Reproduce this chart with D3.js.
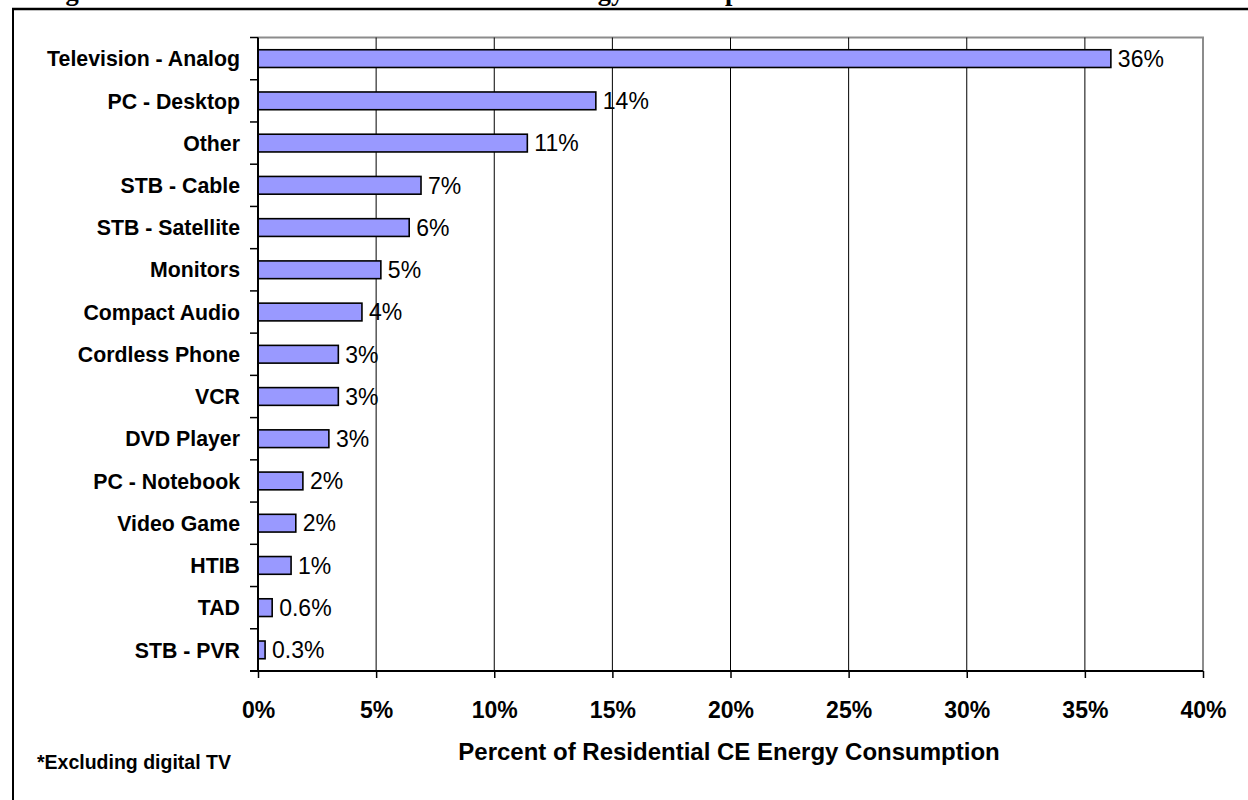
<!DOCTYPE html>
<html>
<head>
<meta charset="utf-8">
<script src="https://cdn.jsdelivr.net/npm/d3@7"></script>
<style>
  html, body { margin: 0; padding: 0; background: #fff; }
  svg { display: block; }
</style>
</head>
<body>
<svg id="chart" width="1248" height="800"></svg>
<script>
// Share of residential consumer-electronics energy use, by product
const categories = [
  "Television - Analog", "PC - Desktop", "Other", "STB - Cable", "STB - Satellite",
  "Monitors", "Compact Audio", "Cordless Phone", "VCR", "DVD Player",
  "PC - Notebook", "Video Game", "HTIB", "TAD", "STB - PVR"
];
const shares = [36.1, 14.3, 11.4, 6.9, 6.4, 5.2, 4.4, 3.4, 3.4, 3.0, 1.9, 1.6, 1.4, 0.6, 0.3];
const valueLabels = ["36%", "14%", "11%", "7%", "6%", "5%", "4%", "3%", "3%", "3%", "2%", "2%", "1%", "0.6%", "0.3%"];
const xTicks = [0, 5, 10, 15, 20, 25, 30, 35, 40];

const titleText = "Figure 3: Consumer Electronics Residential Energy Consumption in U.S. Households in 2006*";
const axisTitle = "Percent of Residential CE Energy Consumption";
const footnote = "*Excluding digital TV";

const svg = d3.select("#chart");
const sans = "'Liberation Sans', Arial, Helvetica, sans-serif";

const plot = { left: 258, right: 1203, top: 37.5, bottom: 671 };

const x = d3.scaleLinear().domain([0, 40]).range([plot.left, plot.right]);
const y = d3.scaleBand().domain(categories)
  .range([plot.top, plot.bottom])
  .paddingInner(0.58).paddingOuter(0.29);

// Figure caption (runs off the top edge of the page)
svg.append("text")
  .attr("x", 42).attr("y", -0.5)
  .attr("font-family", "'Liberation Serif', 'Times New Roman', serif")
  .attr("font-weight", "bold")
  .attr("font-size", 26.5)
  .attr("fill", "#000")
  .text(titleText);

// Outer frame of the figure
svg.append("line").attr("x1", 12).attr("x2", 1248).attr("y1", 9).attr("y2", 9)
  .attr("stroke", "#000").attr("stroke-width", 2.5);
svg.append("line").attr("x1", 13).attr("x2", 13).attr("y1", 8).attr("y2", 800)
  .attr("stroke", "#000").attr("stroke-width", 2);

// Plot-area border (top and right) in grey
svg.append("path")
  .attr("d", `M${plot.left},${plot.top}H${plot.right}V${plot.bottom}`)
  .attr("fill", "none").attr("stroke", "#8c8c8c").attr("stroke-width", 2);

// Vertical gridlines
svg.append("g").selectAll("line")
  .data(xTicks.filter(t => t > 0 && t < 40))
  .join("line")
  .attr("x1", d => x(d)).attr("x2", d => x(d))
  .attr("y1", plot.top).attr("y2", plot.bottom)
  .attr("stroke", "#000").attr("stroke-width", 1);

// Bars
svg.append("g").selectAll("rect")
  .data(categories)
  .join("rect")
  .attr("x", x(0))
  .attr("y", d => y(d))
  .attr("width", (d, i) => x(shares[i]) - x(0))
  .attr("height", y.bandwidth())
  .attr("fill", "#9999ff")
  .attr("stroke", "#000")
  .attr("stroke-width", 1.6);

// Value labels at bar ends
svg.append("g").selectAll("text")
  .data(categories)
  .join("text")
  .attr("x", (d, i) => x(shares[i]) + 7)
  .attr("y", d => y(d) + y.bandwidth() / 2)
  .attr("dy", "0.36em")
  .attr("font-family", sans)
  .attr("font-size", 23)
  .attr("fill", "#000")
  .text((d, i) => valueLabels[i]);

// Category axis (left)
const yAxis = svg.append("g");
yAxis.append("line")
  .attr("x1", plot.left).attr("x2", plot.left)
  .attr("y1", plot.top).attr("y2", plot.bottom)
  .attr("stroke", "#000").attr("stroke-width", 2);
const step = y.step();
yAxis.selectAll("line.tick")
  .data(d3.range(categories.length + 1))
  .join("line").attr("class", "tick")
  .attr("x1", plot.left - 8).attr("x2", plot.left)
  .attr("y1", i => plot.top + i * step).attr("y2", i => plot.top + i * step)
  .attr("stroke", "#000").attr("stroke-width", 1.5);
yAxis.selectAll("text")
  .data(categories)
  .join("text")
  .attr("x", 240)
  .attr("y", d => y(d) + y.bandwidth() / 2)
  .attr("dy", "0.36em")
  .attr("text-anchor", "end")
  .attr("font-family", sans)
  .attr("font-weight", "bold")
  .attr("font-size", 21.3)
  .attr("fill", "#000")
  .text(d => d);

// Value axis (bottom)
const xAxis = svg.append("g")
  .attr("transform", `translate(0,${plot.bottom})`)
  .call(d3.axisBottom(x).tickValues(xTicks).tickFormat(d => d + "%").tickSize(7).tickPadding(24));
xAxis.select(".domain")
  .attr("d", `M${plot.left - 8},0H${plot.right}`)
  .attr("stroke", "#000").attr("stroke-width", 2);
xAxis.selectAll(".tick line").attr("stroke", "#000").attr("stroke-width", 1.5);
xAxis.selectAll(".tick text")
  .attr("font-family", sans)
  .attr("font-weight", "bold")
  .attr("font-size", 23)
  .attr("fill", "#000");

// Axis title
svg.append("text")
  .attr("x", 729).attr("y", 760)
  .attr("text-anchor", "middle")
  .attr("font-family", sans)
  .attr("font-weight", "bold")
  .attr("font-size", 24)
  .attr("fill", "#000")
  .text(axisTitle);

// Footnote
svg.append("text")
  .attr("x", 37).attr("y", 769)
  .attr("font-family", sans)
  .attr("font-weight", "bold")
  .attr("font-size", 19.5)
  .attr("fill", "#000")
  .text(footnote);
</script>
</body>
</html>
